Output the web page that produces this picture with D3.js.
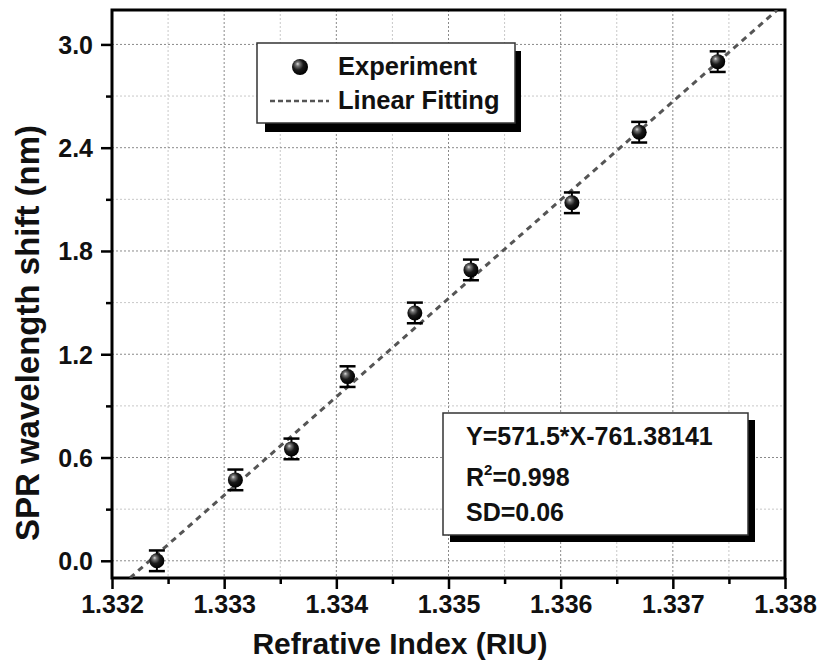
<!DOCTYPE html>
<html lang="en">
<head>
    <meta charset="UTF-8">
    <title>SPR shift vs refractive index</title>
    <script src="https://d3js.org/d3.v7.min.js"></script>
    <style>
        body { margin: 0; background: #fff; }
        text { font-family: "Liberation Sans", Arial, sans-serif; font-weight: bold; fill: #111; }
    </style>
</head>
<body>
    <script>
        // values
        let riu   = [1.3324, 1.3331, 1.3336, 1.3341, 1.3347, 1.3352, 1.3361, 1.3367, 1.3374];
        let shift = [0.00, 0.47, 0.65, 1.07, 1.44, 1.69, 2.08, 2.49, 2.90];
        let err   = [0.06, 0.06, 0.06, 0.06, 0.06, 0.06, 0.06, 0.06, 0.06];
        let fitX  = [1.33216, 1.33793];
        let fitY  = [-0.1, 3.2];
        let xTicks = [1.332, 1.333, 1.334, 1.335, 1.336, 1.337, 1.338];
        let yTicks = [0.0, 0.6, 1.2, 1.8, 2.4, 3.0];
        let legendLabels = ["Experiment", "Linear Fitting"];
        let fitText = ["Y=571.5*X-761.38141", "0.998", "SD=0.06"];

        let w = 820, h = 666;
        let m = {left: 112, top: 10, right: 785, bottom: 578};

        const svg = d3.select('body').append('svg').attr("width", w).attr("height", h);

        let x = d3.scaleLinear().domain([1.332, 1.338]).range([m.left, m.right]);
        let y = d3.scaleLinear().domain([-0.1, 3.2]).range([m.bottom, m.top]);

        // sphere look for the markers
        let grad = svg.append('defs').append('radialGradient').attr('id', 'ball')
            .attr('cx', '40%').attr('cy', '40%').attr('r', '60%').attr('fx', '35%').attr('fy', '30%');
        grad.append('stop').attr('offset', '0%').attr('stop-color', '#dcdcdc');
        grad.append('stop').attr('offset', '20%').attr('stop-color', '#777');
        grad.append('stop').attr('offset', '55%').attr('stop-color', '#1a1a1a');
        grad.append('stop').attr('offset', '100%').attr('stop-color', '#000');

        svg.append('clipPath').attr('id', 'plot').append('rect')
            .attr('x', m.left).attr('y', m.top)
            .attr('width', m.right - m.left).attr('height', m.bottom - m.top);

        // grid: minor lighter, major darker
        let xMinor = d3.range(1.3325, 1.338, 0.001);
        let yMinor = d3.range(0.3, 3.2, 0.6);
        let grid = svg.append('g');
        grid.selectAll('.gxm').data(xMinor).enter().append('line')
            .attr('x1', d => x(d)).attr('x2', d => x(d)).attr('y1', m.top).attr('y2', m.bottom)
            .attr('stroke', '#c8c8c8').attr('stroke-width', 1).attr('stroke-dasharray', '2,2');
        grid.selectAll('.gym').data(yMinor).enter().append('line')
            .attr('y1', d => y(d)).attr('y2', d => y(d)).attr('x1', m.left).attr('x2', m.right)
            .attr('stroke', '#c8c8c8').attr('stroke-width', 1).attr('stroke-dasharray', '2,2');
        grid.selectAll('.gx').data(xTicks.slice(1, -1)).enter().append('line')
            .attr('x1', d => x(d)).attr('x2', d => x(d)).attr('y1', m.top).attr('y2', m.bottom)
            .attr('stroke', '#8a8a8a').attr('stroke-width', 1).attr('stroke-dasharray', '2,2');
        grid.selectAll('.gy').data(yTicks).enter().append('line')
            .attr('y1', d => y(d)).attr('y2', d => y(d)).attr('x1', m.left).attr('x2', m.right)
            .attr('stroke', '#8a8a8a').attr('stroke-width', 1).attr('stroke-dasharray', '2,2');

        // axes
        let xAxis = svg.append('g').attr('transform', `translate(0,${m.bottom})`)
            .call(d3.axisBottom(x).tickValues(xTicks).tickFormat(d3.format('.3f')).tickSize(11).tickPadding(6));
        svg.append('g').attr('transform', `translate(0,${m.bottom})`)
            .call(d3.axisBottom(x).tickValues(xMinor).tickFormat('').tickSize(6));
        let yAxis = svg.append('g').attr('transform', `translate(${m.left},0)`)
            .call(d3.axisLeft(y).tickValues(yTicks).tickFormat(d3.format('.1f')).tickSize(11).tickPadding(8));
        svg.append('g').attr('transform', `translate(${m.left},0)`)
            .call(d3.axisLeft(y).tickValues(yMinor).tickFormat('').tickSize(6));
        svg.selectAll('.domain').remove();
        svg.selectAll('.tick line').attr('stroke', '#000').attr('stroke-width', 2.5);
        xAxis.selectAll('text').style('font-size', '25px').attr('fill', '#111');
        yAxis.selectAll('text').style('font-size', '25px').attr('fill', '#111').attr('dy', '0.36em');

        // frame
        svg.append('rect').attr('x', m.left).attr('y', m.top)
            .attr('width', m.right - m.left).attr('height', m.bottom - m.top)
            .attr('fill', 'none').attr('stroke', '#000').attr('stroke-width', 3);

        // linear fit
        svg.append('line').attr('clip-path', 'url(#plot)')
            .attr('x1', x(fitX[0])).attr('y1', y(fitY[0]))
            .attr('x2', x(fitX[1])).attr('y2', y(fitY[1]))
            .attr('stroke', '#555').attr('stroke-width', 3).attr('stroke-dasharray', '6,5');

        // error bars and points
        let pts = riu.map((d, i) => ({x: d, y: shift[i], e: err[i]}));
        let pg = svg.selectAll('.pt').data(pts).enter().append('g');
        pg.append('line').attr('x1', d => x(d.x)).attr('x2', d => x(d.x))
            .attr('y1', d => y(d.y - d.e)).attr('y2', d => y(d.y + d.e))
            .attr('stroke', '#000').attr('stroke-width', 2);
        [-1, 1].forEach(s => {
            pg.append('line').attr('x1', d => x(d.x) - 8).attr('x2', d => x(d.x) + 8)
                .attr('y1', d => y(d.y + s * d.e)).attr('y2', d => y(d.y + s * d.e))
                .attr('stroke', '#000').attr('stroke-width', 2.5);
        });
        pg.append('circle').attr('cx', d => x(d.x)).attr('cy', d => y(d.y)).attr('r', 7.5)
            .attr('fill', 'url(#ball)');

        // legend
        let lg = svg.append('g');
        lg.append('rect').attr('x', 265).attr('y', 51).attr('width', 256).attr('height', 81).attr('fill', '#000');
        lg.append('rect').attr('x', 257).attr('y', 43).attr('width', 258).attr('height', 80)
            .attr('fill', '#fff').attr('stroke', '#333').attr('stroke-width', 1.5);
        lg.append('circle').attr('cx', 300).attr('cy', 67).attr('r', 8).attr('fill', 'url(#ball)');
        lg.append('line').attr('x1', 270).attr('x2', 329).attr('y1', 101).attr('y2', 101)
            .attr('stroke', '#555').attr('stroke-width', 2.5).attr('stroke-dasharray', '5,3');
        lg.append('text').attr('x', 338).attr('y', 75).style('font-size', '25.5px').text(legendLabels[0]);
        lg.append('text').attr('x', 338).attr('y', 109).style('font-size', '25.5px').text(legendLabels[1]);

        // fit results box
        let fb = svg.append('g');
        fb.append('rect').attr('x', 450).attr('y', 420).attr('width', 305).attr('height', 122).attr('fill', '#000');
        fb.append('rect').attr('x', 443).attr('y', 413).attr('width', 305).attr('height', 122)
            .attr('fill', '#fff').attr('stroke', '#333').attr('stroke-width', 1.5);
        fb.append('text').attr('x', 466).attr('y', 445).style('font-size', '25px').text(fitText[0]);
        let r2 = fb.append('text').attr('x', 466).attr('y', 486).style('font-size', '25px');
        r2.append('tspan').text('R');
        r2.append('tspan').attr('dy', -11).style('font-size', '15px').text('2');
        r2.append('tspan').attr('dy', 11).text('=' + fitText[1]);
        fb.append('text').attr('x', 466).attr('y', 521).style('font-size', '25px').text(fitText[2]);

        // axis titles
        svg.append('text').attr('x', 400).attr('y', 654).attr('text-anchor', 'middle')
            .style('font-size', '30px').text('Refrative Index (RIU)');
        svg.append('text').attr('transform', 'translate(39,333) rotate(-90)').attr('text-anchor', 'middle')
            .style('font-size', '33px').text('SPR wavelength shift (nm)');
    </script>
</body>
</html>
